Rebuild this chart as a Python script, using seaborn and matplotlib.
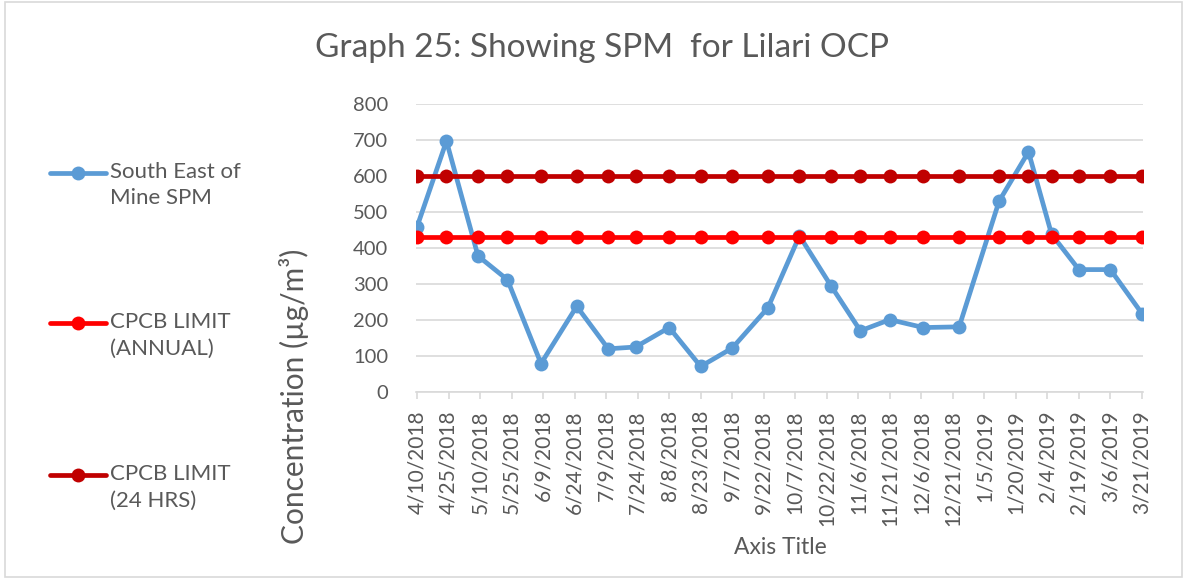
import matplotlib.pyplot as plt
import pandas as pd
import seaborn as sns
from matplotlib.lines import Line2D
from matplotlib.patches import Rectangle


# sampling dates
sample_dates = [
    "2018-04-10", "2018-04-24", "2018-05-09", "2018-05-23", "2018-06-08", "2018-06-25",
    "2018-07-10", "2018-07-23", "2018-08-08", "2018-08-23", "2018-09-07", "2018-09-24",
    "2018-10-09", "2018-10-24", "2018-11-07", "2018-11-21", "2018-12-07", "2018-12-24",
    "2019-01-12", "2019-01-26", "2019-02-06", "2019-02-19", "2019-03-06", "2019-03-21",
]
spm_values = [
    459, 697, 378, 312, 79, 238, 120, 125, 179, 71, 122, 234,
    434, 295, 170, 201, 179, 181, 530, 667, 438, 340, 340, 218,
]
annual_limit = [
    430, 430, 430, 430, 430, 430, 430, 430, 430, 430, 430, 430,
    430, 430, 430, 430, 430, 430, 430, 430, 430, 430, 430, 430,
]
daily_limit = [
    600, 600, 600, 600, 600, 600, 600, 600, 600, 600, 600, 600,
    600, 600, 600, 600, 600, 600, 600, 600, 600, 600, 600, 600,
]
series_names = ["South East of\nMine SPM", "CPCB LIMIT\n(ANNUAL)", "CPCB LIMIT\n(24 HRS)"]
series_colors = ["#5B9BD5", "#FF0000", "#C00000"]
tick_labels = [
    "4/10/2018", "4/25/2018", "5/10/2018", "5/25/2018", "6/9/2018", "6/24/2018",
    "7/9/2018", "7/24/2018", "8/8/2018", "8/23/2018", "9/7/2018", "9/22/2018",
    "10/7/2018", "10/22/2018", "11/6/2018", "11/21/2018", "12/6/2018", "12/21/2018",
    "1/5/2019", "1/20/2019", "2/4/2019", "2/19/2019", "3/6/2019", "3/21/2019",
]
y_ticks = [0, 100, 200, 300, 400, 500, 600, 700, 800]

TEXT = "#595959"
GRID = "#D9D9D9"
W, H = 1187, 579


def fx(px):
    return px / W


def fy(px):
    return 1 - px / H


def build_frame() -> pd.DataFrame:
    dates = pd.to_datetime(sample_dates)
    frames = []
    for name, values in zip(series_names, [spm_values, annual_limit, daily_limit]):
        frames.append(pd.DataFrame({"date": dates, "value": values, "series": name}))
    return pd.concat(frames, ignore_index=True)


def main() -> None:
    sns.set_theme(style="white")
    plt.rcParams["font.family"] = ["Lato", "DejaVu Sans"]

    df = build_frame()

    fig = plt.figure(figsize=(W / 100, H / 100), dpi=100)
    fig.add_artist(Rectangle((0.004, 0.003), 0.992, 0.994, transform=fig.transFigure,
                             fill=False, edgecolor=GRID, linewidth=1.2))
    ax = fig.add_axes([fx(416), fy(392), fx(1143) - fx(416), fy(104) - fy(392)])

    sns.lineplot(
        data=df, x="date", y="value", hue="series",
        hue_order=series_names,
        palette=dict(zip(series_names, series_colors)),
        marker="o", markersize=10, markeredgewidth=0,
        linewidth=3.4, ax=ax, sort=True, legend=False,
    )

    tick_dates = pd.to_datetime(tick_labels, format="%m/%d/%Y")
    ax.set_xlim(tick_dates[0] - pd.Timedelta(days=0.5), tick_dates[-1] + pd.Timedelta(days=0.5))
    ax.set_xticks(tick_dates)
    ax.set_xticklabels(tick_labels, rotation=90, fontsize=15, color=TEXT)
    ax.tick_params(axis="x", bottom=True, length=5, width=1.2, color=GRID, pad=8)

    ax.set_ylim(0, 800)
    ax.set_yticks(y_ticks)
    ax.set_yticklabels([str(v) for v in y_ticks], fontsize=14.5, color=TEXT)
    ax.tick_params(axis="y", left=False, pad=14)
    ax.yaxis.grid(True, color=GRID, linewidth=1.2)
    ax.set_axisbelow(True)

    for side in ["top", "right", "left"]:
        ax.spines[side].set_visible(False)
    ax.spines["bottom"].set_color(GRID)
    ax.spines["bottom"].set_linewidth(1.2)

    ax.set_xlabel("")
    ax.set_ylabel("")

    # legend on the left, handle level with the first text line
    legend_rows = [173, 323, 475]
    for name, color, row in zip(series_names, series_colors, legend_rows):
        fig.add_artist(Line2D([fx(50), fx(78), fx(106)], [fy(row)] * 3,
                              transform=fig.transFigure, color=color, linewidth=3.4,
                              marker="o", markersize=10, markeredgewidth=0, markevery=[1]))
        fig.text(fx(110), fy(row - 11), name, ha="left", va="top",
                 fontsize=16, color=TEXT, linespacing=1.4)

    fig.text(fx(602), fy(48), "Graph 25: Showing SPM  for Lilari OCP",
             ha="center", va="center", fontsize=24, color=TEXT)
    fig.text(fx(780), fy(547), "Axis Title", ha="center", va="center", fontsize=16.5, color=TEXT)
    fig.text(fx(294), fy(396), "Concentration (µg/m³)", rotation=90,
             ha="center", va="center", fontsize=21.5, color=TEXT)

    fig.savefig("out.png", dpi=100)
    plt.close(fig)


if __name__ == "__main__":
    main()
